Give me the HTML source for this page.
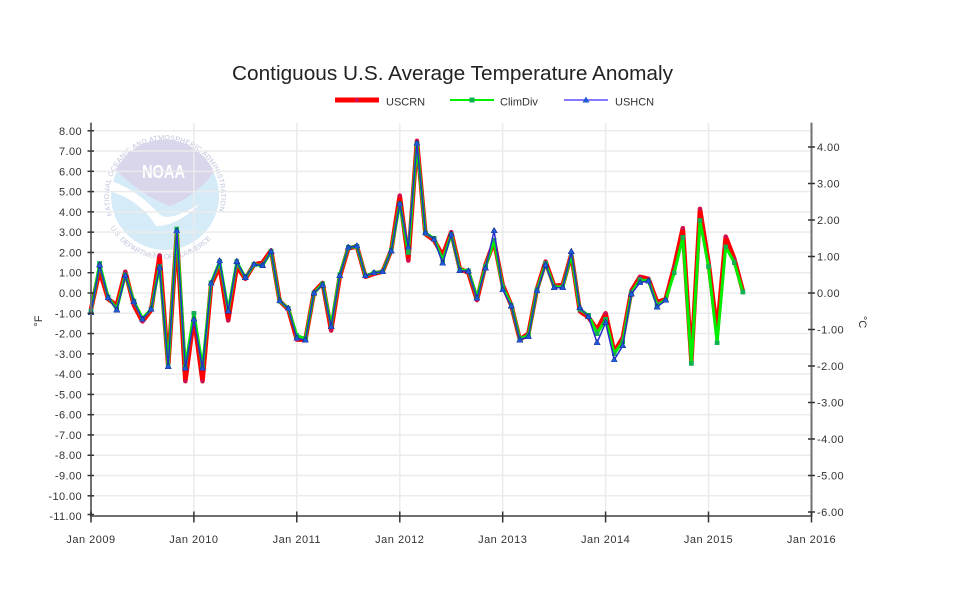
<!DOCTYPE html>
<html><head><meta charset="utf-8"><style>
html,body{margin:0;padding:0;background:#fff;}
svg{display:block;}
text{font-family:"Liberation Sans",Arial,sans-serif;}
</style></head><body>
<svg width="963" height="597" viewBox="0 0 963 597" xmlns="http://www.w3.org/2000/svg">
<defs>
<marker id="mr" viewBox="0 0 10 10" refX="5" refY="5" markerUnits="userSpaceOnUse" markerWidth="0.5" markerHeight="0.2" preserveAspectRatio="none"><circle cx="5" cy="5" r="4.6" fill="#c8105a"/></marker>
<marker id="mg" viewBox="0 0 10 10" refX="5" refY="5" markerUnits="userSpaceOnUse" markerWidth="0.56" markerHeight="0.237" preserveAspectRatio="none"><rect x="0" y="0" width="10" height="10" fill="#12b050"/></marker>
<marker id="mb" viewBox="0 0 10 10" refX="5" refY="4" markerUnits="userSpaceOnUse" markerWidth="0.75" markerHeight="0.28" preserveAspectRatio="none"><polygon points="0,0 10,0 5,10" fill="#1f5ad6" stroke="#101a80" stroke-width="0.8"/></marker>
<path id="ringTop" d="M112.4,215.2 A56,56 0 1 1 217.6,215.2"/>
<path id="ringBot" d="M110.4,227.5 A63,63 0 0 0 219.6,227.5"/>
</defs>
<rect width="963" height="597" fill="#fff"/>

<!-- NOAA watermark -->
<g>
<circle cx="165" cy="196" r="54" fill="#d6ebf8"/>
<path d="M116,170 A54,54 0 0 1 214,172 Q196,196 170,206 Q142,196 116,170 Z" fill="#d9d6ec"/>
<path d="M111,181 C132,188 148,202 158,213 C166,222 182,214 200,204 C186,217 172,226 156,226 C148,212 130,196 111,192 Z" fill="#ffffff"/>
<text x="142" y="178" font-size="18" font-weight="bold" fill="#ffffff" textLength="43" lengthAdjust="spacingAndGlyphs">NOAA</text>
<text font-size="7" fill="#bfc4dc"><textPath href="#ringTop" textLength="210" lengthAdjust="spacing">NATIONAL OCEANIC AND ATMOSPHERIC ADMINISTRATION</textPath></text>
<text font-size="7" fill="#bfc4dc"><textPath href="#ringBot" textLength="118" lengthAdjust="spacing">U.S. DEPARTMENT OF COMMERCE</textPath></text>
</g>

<!-- grid -->
<g stroke="#ebebeb" stroke-width="1.5">
<line x1="91" x2="811.5" y1="130.76" y2="130.76"/>
<line x1="91" x2="811.5" y1="151.04" y2="151.04"/>
<line x1="91" x2="811.5" y1="171.32" y2="171.32"/>
<line x1="91" x2="811.5" y1="191.6" y2="191.6"/>
<line x1="91" x2="811.5" y1="211.88" y2="211.88"/>
<line x1="91" x2="811.5" y1="232.16" y2="232.16"/>
<line x1="91" x2="811.5" y1="252.44" y2="252.44"/>
<line x1="91" x2="811.5" y1="272.72" y2="272.72"/>
<line x1="91" x2="811.5" y1="293" y2="293"/>
<line x1="91" x2="811.5" y1="313.28" y2="313.28"/>
<line x1="91" x2="811.5" y1="333.56" y2="333.56"/>
<line x1="91" x2="811.5" y1="353.84" y2="353.84"/>
<line x1="91" x2="811.5" y1="374.12" y2="374.12"/>
<line x1="91" x2="811.5" y1="394.4" y2="394.4"/>
<line x1="91" x2="811.5" y1="414.68" y2="414.68"/>
<line x1="91" x2="811.5" y1="434.96" y2="434.96"/>
<line x1="91" x2="811.5" y1="455.24" y2="455.24"/>
<line x1="91" x2="811.5" y1="475.52" y2="475.52"/>
<line x1="91" x2="811.5" y1="495.8" y2="495.8"/>
<line x1="193.9" x2="193.9" y1="123" y2="516"/>
<line x1="296.8" x2="296.8" y1="123" y2="516"/>
<line x1="399.8" x2="399.8" y1="123" y2="516"/>
<line x1="502.7" x2="502.7" y1="123" y2="516"/>
<line x1="605.6" x2="605.6" y1="123" y2="516"/>
<line x1="708.5" x2="708.5" y1="123" y2="516"/>
</g>

<!-- series -->
<g transform="matrix(8.577,0,0,-20.28,91,293)" fill="none">
<polyline vector-effect="non-scaling-stroke" stroke="#ff0000" stroke-width="4.5" stroke-linejoin="round" marker-start="url(#mr)" marker-mid="url(#mr)" marker-end="url(#mr)"
points="0,-0.8 1,1.1 2,-0.3 3,-0.6 4,1.05 5,-0.6 6,-1.4 7,-0.85 8,1.85 9,-3.6 10,2.9 11,-4.35 12,-1.2 13,-4.35 14,0.4 15,1.3 16,-1.35 17,1.3 18,0.7 19,1.4 20,1.5 21,2.1 22,-0.4 23,-0.8 24,-2.3 25,-2.3 26,0.05 27,0.5 28,-1.85 29,0.8 30,2.2 31,2.3 32,0.8 33,0.95 34,1.05 35,2.1 36,4.8 37,1.6 38,7.5 39,2.9 40,2.6 41,1.85 42,3.0 43,1.2 44,1.0 45,-0.35 46,1.4 47,2.55 48,0.4 49,-0.6 50,-2.3 51,-2.0 52,0.2 53,1.55 54,0.35 55,0.4 56,1.9 57,-0.9 58,-1.2 59,-1.8 60,-1.0 61,-2.9 62,-2.2 63,0.1 64,0.8 65,0.7 66,-0.45 67,-0.3 68,1.3 69,3.2 70,-3.35 71,4.15 72,1.5 73,-1.9 74,2.78 75,1.7 76,0.1"/>
<polyline vector-effect="non-scaling-stroke" stroke="#00ee00" stroke-width="3" stroke-linejoin="round" marker-start="url(#mg)" marker-mid="url(#mg)" marker-end="url(#mg)"
points="0,-0.9 1,1.45 2,-0.2 3,-0.8 4,0.9 5,-0.4 6,-1.25 7,-0.8 8,1.3 9,-3.6 10,3.15 11,-3.65 12,-1.0 13,-3.65 14,0.5 15,1.55 16,-0.85 17,1.55 18,0.75 19,1.4 20,1.35 21,2.05 22,-0.4 23,-0.75 24,-2.1 25,-2.25 26,0 27,0.45 28,-1.6 29,0.9 30,2.25 31,2.3 32,0.85 33,1.0 34,1.05 35,2.1 36,4.4 37,2.0 38,7.35 39,2.95 40,2.7 41,1.6 42,2.9 43,1.15 44,1.1 45,-0.2 46,1.3 47,2.6 48,0.3 49,-0.6 50,-2.25 51,-2.1 52,0.15 53,1.45 54,0.3 55,0.3 56,1.9 57,-0.8 58,-1.1 59,-2.0 60,-1.3 61,-3.0 62,-2.4 63,0 64,0.65 65,0.6 66,-0.6 67,-0.35 68,1.0 69,2.74 70,-3.47 71,3.57 72,1.3 73,-2.45 74,2.28 75,1.5 76,0.05"/>
<polyline vector-effect="non-scaling-stroke" stroke="#2a2ad0" stroke-width="1.5" stroke-linejoin="round" marker-start="url(#mb)" marker-mid="url(#mb)" marker-end="url(#mb)"
points="0,-0.97 1,1.38 2,-0.23 3,-0.84 4,0.85 5,-0.43 6,-1.3 7,-0.8 8,1.25 9,-3.63 10,3.06 11,-3.71 12,-1.3 13,-3.71 14,0.47 15,1.58 16,-0.89 17,1.55 18,0.76 19,1.41 20,1.35 21,2.04 22,-0.39 23,-0.76 24,-2.24 25,-2.32 26,0 27,0.39 28,-1.66 29,0.85 30,2.25 31,2.32 32,0.85 33,1.0 34,1.05 35,2.07 36,4.39 37,2.25 38,7.38 39,2.97 40,2.65 41,1.46 42,2.89 43,1.1 44,1.08 45,-0.26 46,1.22 47,3.07 48,0.15 49,-0.64 50,-2.32 51,-2.15 52,0.11 53,1.38 54,0.26 55,0.26 56,2.04 57,-0.72 58,-1.17 59,-2.45 60,-1.46 61,-3.3 62,-2.6 63,-0.05 64,0.51 65,0.59 66,-0.7 67,-0.35"/>
</g>

<!-- axes -->
<g stroke="#707070" stroke-width="2">
<line x1="91" x2="91" y1="122.6" y2="517"/>
<line x1="811.5" x2="811.5" y1="122.6" y2="517"/>
<line x1="90" x2="812.5" y1="516" y2="516"/>
</g>
<g stroke="#333" stroke-width="1.5">
<line x1="87.5" x2="94" y1="130.76" y2="130.76"/>
<line x1="87.5" x2="94" y1="151.04" y2="151.04"/>
<line x1="87.5" x2="94" y1="171.32" y2="171.32"/>
<line x1="87.5" x2="94" y1="191.6" y2="191.6"/>
<line x1="87.5" x2="94" y1="211.88" y2="211.88"/>
<line x1="87.5" x2="94" y1="232.16" y2="232.16"/>
<line x1="87.5" x2="94" y1="252.44" y2="252.44"/>
<line x1="87.5" x2="94" y1="272.72" y2="272.72"/>
<line x1="87.5" x2="94" y1="293" y2="293"/>
<line x1="87.5" x2="94" y1="313.28" y2="313.28"/>
<line x1="87.5" x2="94" y1="333.56" y2="333.56"/>
<line x1="87.5" x2="94" y1="353.84" y2="353.84"/>
<line x1="87.5" x2="94" y1="374.12" y2="374.12"/>
<line x1="87.5" x2="94" y1="394.4" y2="394.4"/>
<line x1="87.5" x2="94" y1="414.68" y2="414.68"/>
<line x1="87.5" x2="94" y1="434.96" y2="434.96"/>
<line x1="87.5" x2="94" y1="455.24" y2="455.24"/>
<line x1="87.5" x2="94" y1="475.52" y2="475.52"/>
<line x1="87.5" x2="94" y1="495.8" y2="495.8"/>
<line x1="87.5" x2="94" y1="514.5" y2="514.5"/>
<line x1="808" x2="815" y1="147" y2="147"/>
<line x1="808" x2="815" y1="183.5" y2="183.5"/>
<line x1="808" x2="815" y1="220" y2="220"/>
<line x1="808" x2="815" y1="256.5" y2="256.5"/>
<line x1="808" x2="815" y1="293" y2="293"/>
<line x1="808" x2="815" y1="329.5" y2="329.5"/>
<line x1="808" x2="815" y1="366" y2="366"/>
<line x1="808" x2="815" y1="402.5" y2="402.5"/>
<line x1="808" x2="815" y1="439" y2="439"/>
<line x1="808" x2="815" y1="475.5" y2="475.5"/>
<line x1="808" x2="815" y1="512" y2="512"/>
<line x1="91" x2="91" y1="511.5" y2="522.5"/>
<line x1="193.9" x2="193.9" y1="511.5" y2="522.5"/>
<line x1="296.8" x2="296.8" y1="511.5" y2="522.5"/>
<line x1="399.8" x2="399.8" y1="511.5" y2="522.5"/>
<line x1="502.7" x2="502.7" y1="511.5" y2="522.5"/>
<line x1="605.6" x2="605.6" y1="511.5" y2="522.5"/>
<line x1="708.5" x2="708.5" y1="511.5" y2="522.5"/>
<line x1="811.5" x2="811.5" y1="511.5" y2="522.5"/>
</g>

<!-- left labels -->
<g font-size="11" fill="#333" text-anchor="end" letter-spacing="0.4">
<text x="82" y="134.8">8.00</text>
<text x="82" y="155">7.00</text>
<text x="82" y="175.3">6.00</text>
<text x="82" y="195.6">5.00</text>
<text x="82" y="215.9">4.00</text>
<text x="82" y="236.2">3.00</text>
<text x="82" y="256.4">2.00</text>
<text x="82" y="276.7">1.00</text>
<text x="82" y="297">0.00</text>
<text x="82" y="317.3">-1.00</text>
<text x="82" y="337.6">-2.00</text>
<text x="82" y="357.8">-3.00</text>
<text x="82" y="378.1">-4.00</text>
<text x="82" y="398.4">-5.00</text>
<text x="82" y="418.7">-6.00</text>
<text x="82" y="439">-7.00</text>
<text x="82" y="459.2">-8.00</text>
<text x="82" y="479.5">-9.00</text>
<text x="82" y="499.8">-10.00</text>
<text x="82" y="520">-11.00</text>
</g>
<!-- right labels -->
<g font-size="11" fill="#333" text-anchor="start" letter-spacing="0.4">
<text x="817" y="151">4.00</text>
<text x="817" y="187.5">3.00</text>
<text x="817" y="224">2.00</text>
<text x="817" y="260.5">1.00</text>
<text x="817" y="297">0.00</text>
<text x="817" y="333.5">-1.00</text>
<text x="817" y="370">-2.00</text>
<text x="817" y="406.5">-3.00</text>
<text x="817" y="443">-4.00</text>
<text x="817" y="479.5">-5.00</text>
<text x="817" y="516">-6.00</text>
</g>
<!-- bottom labels -->
<g font-size="11" fill="#333" text-anchor="middle" letter-spacing="0.5">
<text x="91" y="543">Jan 2009</text>
<text x="193.9" y="543">Jan 2010</text>
<text x="296.8" y="543">Jan 2011</text>
<text x="399.8" y="543">Jan 2012</text>
<text x="502.7" y="543">Jan 2013</text>
<text x="605.6" y="543">Jan 2014</text>
<text x="708.5" y="543">Jan 2015</text>
<text x="811.5" y="543">Jan 2016</text>
</g>

<text font-size="11" fill="#333" text-anchor="middle" transform="translate(42,321) rotate(-90)">°F</text>
<text font-size="11" fill="#333" text-anchor="middle" transform="translate(859,322) rotate(90)">°C</text>

<!-- title -->
<text x="232" y="80" font-size="20" fill="#222" textLength="441" lengthAdjust="spacingAndGlyphs">Contiguous U.S. Average Temperature Anomaly</text>

<!-- legend -->
<line x1="335" x2="379" y1="100" y2="100" stroke="#ff0000" stroke-width="5"/>
<circle cx="357" cy="100" r="2" fill="#c8105a"/>
<text x="386" y="105.5" font-size="11" fill="#333">USCRN</text>
<line x1="450" x2="494" y1="100" y2="100" stroke="#00ee00" stroke-width="2"/>
<rect x="469.5" y="97.5" width="5" height="5" fill="#12b050"/>
<text x="500" y="105.5" font-size="11" fill="#333">ClimDiv</text>
<line x1="564" x2="608" y1="100" y2="100" stroke="#8878ff" stroke-width="2"/>
<polygon points="582.5,102.5 589.5,102.5 586,96.5" fill="#1f5ad6"/>
<text x="615" y="105.5" font-size="11" fill="#333">USHCN</text>
</svg>
</body></html>
